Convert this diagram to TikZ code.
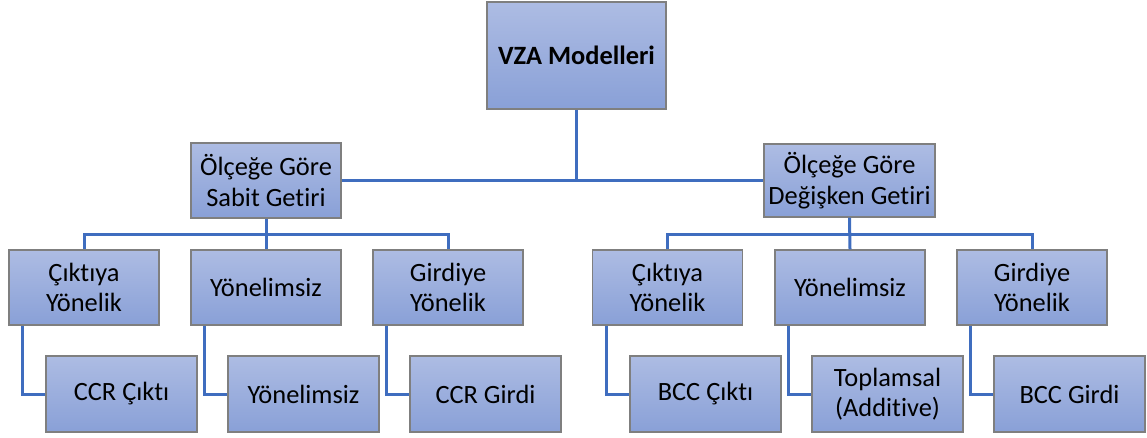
\documentclass[tikz,border=0pt]{standalone}
\usepackage{fontspec}
\setmainfont{Carlito}[Ligatures={NoCommon,NoContextual}]
\definecolor{boxtop}{HTML}{ADBCE3}
\definecolor{boxbot}{HTML}{89A0D7}
\definecolor{boxline}{HTML}{7F7F7F}
\definecolor{conn}{HTML}{3F6DBF}
\tikzset{
  orgbox/.style={rectangle, draw=boxline, line width=1.4pt, top color=boxtop, bottom color=boxbot,
    align=center, inner sep=2pt, font=\fontsize{26.4}{30.5}\selectfont},
  lvthree/.style={orgbox, minimum width=150pt, minimum height=75pt},
  lvfour/.style={orgbox, minimum width=151pt, minimum height=76pt},
  link/.style={draw=conn, line width=3pt}
}
\begin{document}
\begin{tikzpicture}[x=1pt,y=-1pt]
\useasboundingbox (0,0) rectangle (1147,437);
\coordinate (busL) at (266,234);
\coordinate (busR) at (850,234);
% top
\node[orgbox, minimum width=179pt, minimum height=107pt, font=\fontsize{26.4}{30.5}\selectfont\bfseries] (top) at (576.5,55.5) {VZA Modelleri};
% middle
\node[orgbox, minimum width=150pt, minimum height=75pt] (ml) at (266,180.5) {Ölçeğe Göre\\Sabit Getiri};
\node[orgbox, minimum width=171pt, minimum height=73pt] (mr) at (849.5,180.5) {Ölçeğe Göre\\Değişken Getiri};
% level 3
\node[lvthree] (a3) at (84,287.5) {Çıktıya\\Yönelik};
\node[lvthree] (b3) at (266,287.5) {Yönelimsiz};
\node[lvthree] (c3) at (448,287.5) {Girdiye\\Yönelik};
\node[lvthree] (d3) at (667.5,287.5) {Çıktıya\\Yönelik};
\node[lvthree] (e3) at (850,287.5) {Yönelimsiz};
\node[lvthree] (f3) at (1032,287.5) {Girdiye\\Yönelik};
% level 4
\node[lvfour] (a4) at (121.5,394) {CCR Çıktı};
\node[lvfour] (b4) at (303.5,394) {Yönelimsiz};
\node[lvfour] (c4) at (485.5,394) {CCR Girdi};
\node[lvfour] (d4) at (705.5,394) {BCC Çıktı};
\node[lvfour] (e4) at (887.5,394) {Toplamsal\\(Additive)};
\node[lvfour] (f4) at (1069.5,394) {BCC Girdi};
% connectors
\draw[link] (top.south) -- (top.south |- ml.east);
\draw[link] (ml.east) -- (mr.west);
\draw[link] (ml.south) -- (b3.north);
\draw[link] (a3.north) |- (busL) -| (c3.north);
\draw[link] (mr.south) -- (e3.north);
\draw[link] (d3.north) |- (busR) -| (f3.north);
\draw[link] ([xshift=14.5pt]a3.south west) |- (a4.west);
\draw[link] ([xshift=14.5pt]b3.south west) |- (b4.west);
\draw[link] ([xshift=14.5pt]c3.south west) |- (c4.west);
\draw[link] ([xshift=14.5pt]d3.south west) |- (d4.west);
\draw[link] ([xshift=14.5pt]e3.south west) |- (e4.west);
\draw[link] ([xshift=14.5pt]f3.south west) |- (f4.west);
\end{tikzpicture}
\end{document}
